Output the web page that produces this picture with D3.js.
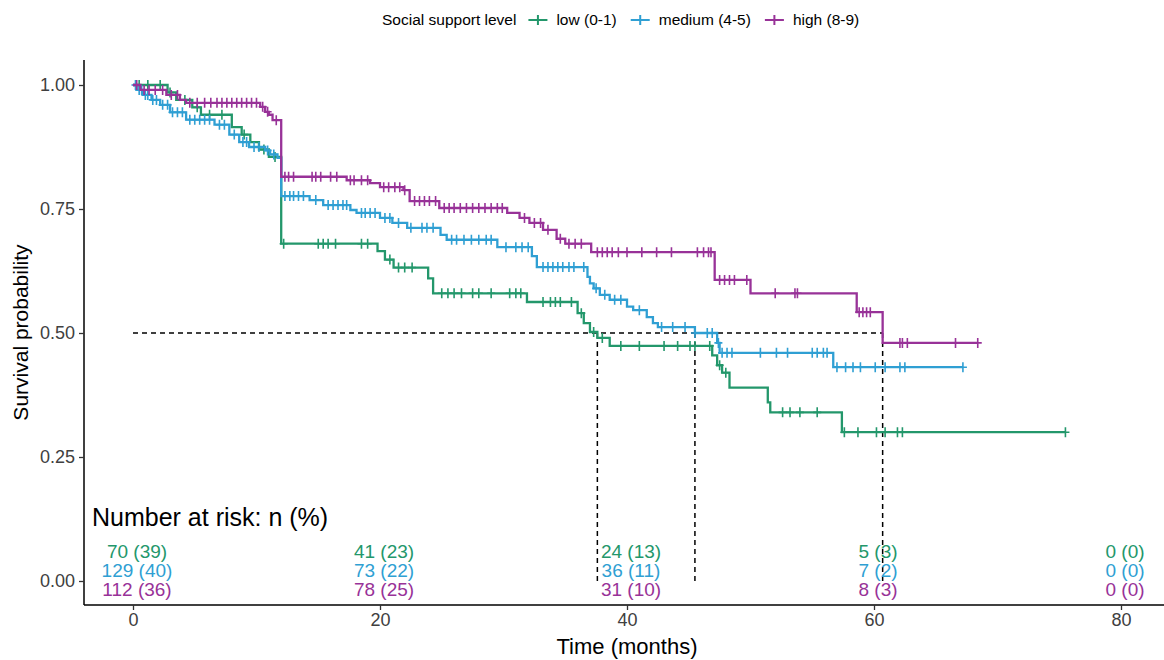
<!DOCTYPE html>
<html>
<head>
<meta charset="utf-8">
<script src="https://cdn.jsdelivr.net/npm/d3@7"></script>
<style>
  body { margin: 0; background: #fff; }
  svg { display: block; font-family: "Liberation Sans", Arial, sans-serif; }
</style>
</head>
<body>
<svg id="chart"></svg>
<script>
// ---------- data ----------
const groups = ["low (0-1)", "medium (4-5)", "high (8-9)"];
const groupColors = ["#23976b", "#2f9fd3", "#983298"];

// step times / survival for each group
const lowTimes = [0, 2.8, 3.5, 4.8, 5.5, 8.0, 8.8, 9.5, 10.2, 11.0, 12.0, 19.8, 20.4, 21.1, 23.9, 24.3, 31.9, 36.0, 36.5, 37.0, 37.6, 38.6, 46.9, 47.3, 47.7, 48.3, 51.4, 51.6, 57.4];
const lowSurv  = [1.0, 0.985, 0.97, 0.955, 0.94, 0.915, 0.90, 0.885, 0.87, 0.855, 0.68, 0.665, 0.648, 0.632, 0.61, 0.58, 0.5625, 0.54, 0.52, 0.502, 0.49, 0.474, 0.455, 0.435, 0.42, 0.39, 0.36, 0.34, 0.30];
const lowEnd = 75.5;
const lowCensor = [0.5, 1.2, 2.2, 3.0, 4.2, 5.2, 6.2, 7.2, 9.0, 10.6, 11.5, 12.2, 15.0, 15.4, 15.8, 16.4, 18.5, 19.0, 20.8, 21.5, 22.0, 22.6, 25.0, 25.5, 26.0, 26.6, 27.5, 28.0, 29.0, 30.5, 31.0, 31.4, 33.2, 33.8, 34.2, 34.6, 35.5, 36.3, 37.3, 38.0, 39.5, 41.0, 43.0, 44.1, 45.1, 45.5, 46.7, 47.5, 48.0, 52.6, 53.2, 54.0, 55.4, 57.6, 58.7, 60.2, 60.9, 61.9, 62.3, 75.5];

const medTimes = [0, 0.3, 0.8, 1.5, 2.2, 3.0, 4.3, 6.6, 7.8, 8.6, 9.4, 10.7, 11.1, 11.7, 12.0, 14.3, 15.4, 17.6, 18.1, 20.0, 21.0, 22.2, 24.9, 25.4, 29.5, 32.3, 32.7, 36.8, 37.0, 37.3, 37.8, 38.6, 40.0, 40.5, 41.6, 42.1, 42.5, 45.5, 47.3, 47.5, 56.7];
const medSurv  = [1.0, 0.99, 0.98, 0.97, 0.96, 0.945, 0.93, 0.92, 0.90, 0.885, 0.875, 0.868, 0.86, 0.853, 0.776, 0.768, 0.758, 0.748, 0.742, 0.732, 0.722, 0.712, 0.698, 0.688, 0.673, 0.655, 0.633, 0.613, 0.60, 0.59, 0.577, 0.567, 0.553, 0.546, 0.532, 0.52, 0.512, 0.50, 0.48, 0.46, 0.431];
const medEnd = 67.2;
const medCensor = [0.2, 0.5, 0.7, 1.0, 1.2, 1.6, 1.9, 2.4, 2.8, 3.2, 3.6, 4.0, 4.6, 5.0, 5.4, 5.8, 6.2, 7.0, 7.4, 8.2, 8.9, 9.2, 9.8, 10.2, 10.9, 11.4, 12.3, 12.7, 13.0, 13.4, 13.8, 14.8, 15.8, 16.2, 16.6, 17.0, 17.3, 18.5, 18.8, 19.2, 19.6, 20.4, 20.8, 21.5, 22.5, 23.4, 23.8, 24.3, 25.8, 26.2, 26.8, 27.4, 28.0, 28.6, 29.0, 30.2, 31.0, 31.5, 32.0, 33.2, 33.6, 34.0, 34.4, 34.8, 35.3, 35.7, 36.5, 37.5, 38.2, 39.0, 39.5, 41.0, 42.8, 43.7, 44.7, 45.5, 46.5, 46.9, 47.4, 47.7, 48.1, 48.5, 50.8, 52.1, 53.0, 55.0, 55.4, 55.9, 56.2, 57.0, 57.7, 58.3, 58.9, 60.1, 60.9, 62.1, 62.5, 67.2];

const highTimes = [0, 0.6, 2.7, 3.8, 4.3, 10.3, 10.7, 11.0, 11.3, 12.0, 17.3, 19.2, 20.0, 21.9, 22.4, 24.8, 30.3, 31.3, 32.1, 33.2, 34.3, 35.0, 37.1, 47.1, 50.0, 58.6, 60.7];
const highSurv  = [1.0, 0.99, 0.98, 0.97, 0.964, 0.956, 0.946, 0.94, 0.929, 0.815, 0.808, 0.802, 0.794, 0.788, 0.766, 0.752, 0.742, 0.732, 0.722, 0.708, 0.69, 0.68, 0.663, 0.607, 0.58, 0.542, 0.48];
const highEnd = 68.4;
const highCensor = [0.3, 0.9, 1.3, 1.8, 2.4, 3.1, 3.6, 4.6, 5.2, 5.8, 6.3, 6.8, 7.2, 7.6, 8.0, 8.4, 8.8, 9.2, 9.6, 10.0, 10.5, 10.9, 11.6, 12.3, 12.6, 13.0, 14.5, 14.8, 15.2, 16.0, 16.5, 17.6, 17.9, 18.5, 19.0, 20.3, 20.7, 21.2, 21.6, 22.0, 22.8, 23.2, 23.6, 24.0, 24.5, 25.2, 25.6, 26.0, 26.5, 27.0, 27.5, 28.0, 28.5, 29.0, 29.5, 29.9, 31.7, 32.5, 33.0, 33.6, 34.6, 35.3, 35.8, 36.3, 37.6, 38.0, 38.4, 38.8, 39.3, 40.0, 41.2, 42.4, 43.6, 45.7, 46.2, 46.6, 46.8, 47.5, 47.9, 48.3, 48.7, 49.7, 52.0, 53.6, 53.8, 58.8, 59.1, 59.4, 59.7, 62.1, 62.3, 62.7, 66.6, 68.4];

// median survival times
const medianTimes = [37.6, 45.5, 60.7];

// number at risk table
const riskTimes = [0, 20, 40, 60, 80];
const lowN  = [70, 41, 24, 5, 0];
const lowPct = [39, 23, 13, 3, 0];
const medN  = [129, 73, 36, 7, 0];
const medPct = [40, 22, 11, 2, 0];
const highN = [112, 78, 31, 8, 0];
const highPct = [36, 25, 10, 3, 0];

const xTicks = [0, 20, 40, 60, 80];
const yTicks = [0, 0.25, 0.5, 0.75, 1];

// ---------- setup ----------
const width = 1164, height = 660;
const svg = d3.select("#chart").attr("width", width).attr("height", height);

const x = d3.scaleLinear().domain([0, 80]).range([133, 1121]);
const y = d3.scaleLinear().domain([0, 1]).range([581, 85]);

const panel = { left: 84, right: 1164, top: 60, bottom: 605 };

const series = [
  { times: lowTimes, surv: lowSurv, end: lowEnd, censor: lowCensor },
  { times: medTimes, surv: medSurv, end: medEnd, censor: medCensor },
  { times: highTimes, surv: highSurv, end: highEnd, censor: highCensor }
];

function survAt(s, t) {
  let v = s.surv[0];
  for (let i = 0; i < s.times.length; i++) {
    if (s.times[i] <= t) v = s.surv[i];
  }
  return v;
}

// ---------- median lines ----------
const dash = "5,4";
svg.append("line")
  .attr("x1", x(0)).attr("x2", x(d3.max(medianTimes)))
  .attr("y1", y(0.5)).attr("y2", y(0.5))
  .attr("stroke", "#000").attr("stroke-width", 1.5).attr("stroke-dasharray", dash);

svg.selectAll("line.median")
  .data(medianTimes)
  .join("line")
  .attr("class", "median")
  .attr("x1", d => x(d)).attr("x2", d => x(d))
  .attr("y1", y(0.5)).attr("y2", y(0))
  .attr("stroke", "#000").attr("stroke-width", 1.5).attr("stroke-dasharray", dash);

// ---------- curves ----------
const line = d3.line()
  .x(d => x(d[0]))
  .y(d => y(d[1]))
  .curve(d3.curveStepAfter);

series.forEach((s, i) => {
  const pts = s.times.map((t, j) => [t, s.surv[j]]);
  pts.push([s.end, s.surv[s.surv.length - 1]]);

  svg.append("path")
    .attr("d", line(pts))
    .attr("fill", "none")
    .attr("stroke", groupColors[i])
    .attr("stroke-width", 2.3);

  svg.append("g")
    .selectAll("path")
    .data(s.censor)
    .join("path")
    .attr("d", t => {
      const cx = x(t), cy = y(survAt(s, t));
      return `M${cx - 4},${cy}H${cx + 4}M${cx},${cy - 5}V${cy + 5}`;
    })
    .attr("stroke", groupColors[i])
    .attr("stroke-width", 1.6);
});

// ---------- axes ----------
svg.append("line")
  .attr("x1", panel.left).attr("x2", panel.left)
  .attr("y1", panel.top).attr("y2", panel.bottom)
  .attr("stroke", "#000").attr("stroke-width", 1.5);
svg.append("line")
  .attr("x1", panel.left).attr("x2", panel.right)
  .attr("y1", panel.bottom).attr("y2", panel.bottom)
  .attr("stroke", "#000").attr("stroke-width", 1.5);

const yAxis = svg.append("g")
  .attr("transform", `translate(${panel.left},0)`)
  .call(d3.axisLeft(y).tickValues(yTicks).tickFormat(d3.format(".2f")).tickSize(5).tickPadding(4));
const xAxis = svg.append("g")
  .attr("transform", `translate(0,${panel.bottom})`)
  .call(d3.axisBottom(x).tickValues(xTicks).tickSize(5).tickPadding(3));

[yAxis, xAxis].forEach(a => {
  a.select(".domain").remove();
  a.selectAll(".tick line").attr("stroke", "#333").attr("stroke-width", 1.3);
  a.selectAll(".tick text")
    .attr("fill", "#404040")
    .style("font-size", "18px")
    .style("font-family", "'Liberation Sans', Arial, sans-serif");
});

svg.append("text")
  .attr("transform", `translate(28,${(panel.top + panel.bottom) / 2}) rotate(-90)`)
  .attr("text-anchor", "middle")
  .style("font-size", "21px")
  .text("Survival probability");

svg.append("text")
  .attr("x", 627)
  .attr("y", 654)
  .attr("text-anchor", "middle")
  .style("font-size", "22px")
  .text("Time (months)");

// ---------- risk table ----------
svg.append("text")
  .attr("x", 92)
  .attr("y", 526)
  .style("font-size", "25px")
  .text("Number at risk: n (%)");

const riskRows = [
  { n: lowN, pct: lowPct, yy: 558 },
  { n: medN, pct: medPct, yy: 577 },
  { n: highN, pct: highPct, yy: 596 }
];

riskRows.forEach((r, i) => {
  svg.append("g")
    .selectAll("text")
    .data(riskTimes)
    .join("text")
    .attr("x", d => x(d) + 4)
    .attr("y", r.yy)
    .attr("text-anchor", "middle")
    .attr("fill", groupColors[i])
    .style("font-size", "19px")
    .text((d, j) => `${r.n[j]} (${r.pct[j]})`);
});

// ---------- legend (laid out left to right) ----------
const legend = svg.append("g").attr("transform", "translate(0,20)");

const title = legend.append("text")
  .attr("x", 382)
  .attr("y", 5)
  .style("font-size", "15.5px")
  .text("Social support level");

let cursor = 382 + title.node().getComputedTextLength() + 12;

groups.forEach((g, i) => {
  legend.append("path")
    .attr("d", `M${cursor},0H${cursor + 19}M${cursor + 9.5},-5V5`)
    .attr("stroke", groupColors[i])
    .attr("stroke-width", 2);
  cursor += 19 + 9;
  const lbl = legend.append("text")
    .attr("x", cursor)
    .attr("y", 5)
    .style("font-size", "15.5px")
    .text(g);
  cursor += lbl.node().getComputedTextLength() + 14;
});
</script>
</body>
</html>
